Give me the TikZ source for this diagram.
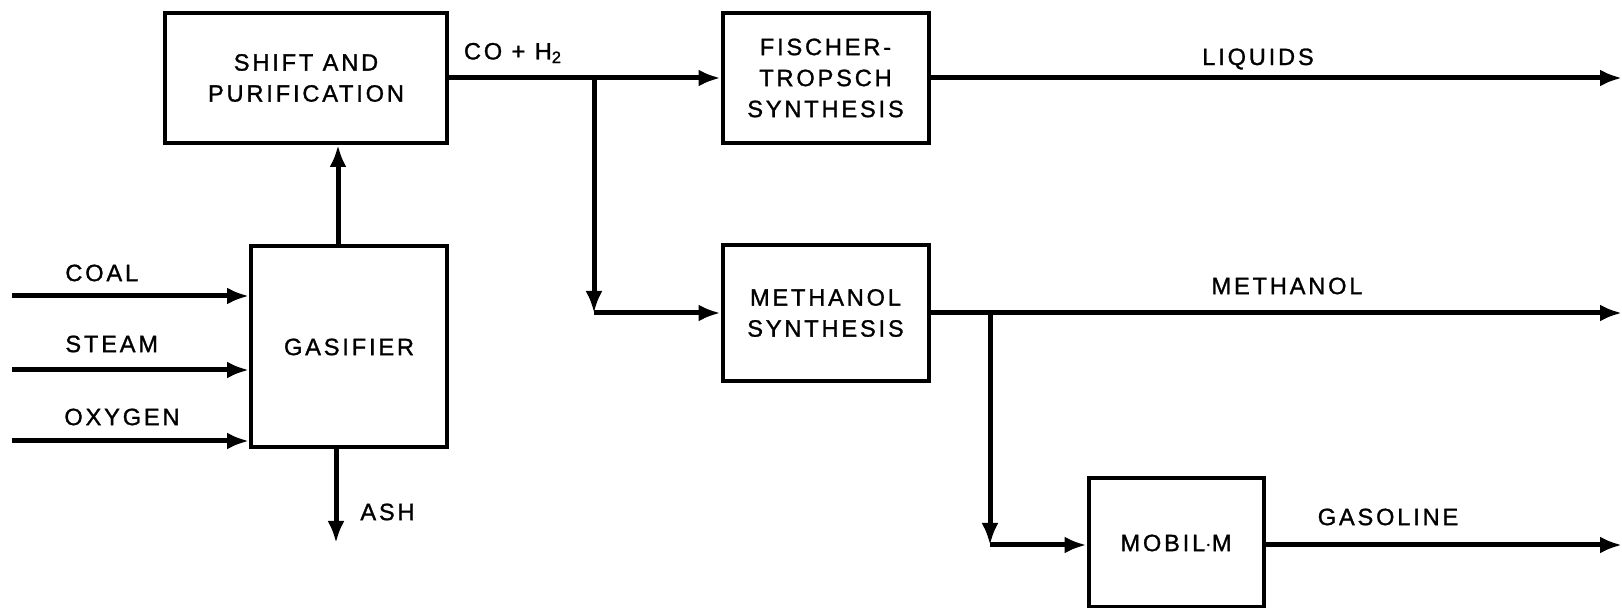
\documentclass[tikz,border=0pt]{standalone}
\usepackage{fontspec}
\setmainfont{Liberation Sans}[LetterSpace=12,FakeBold=1.2]
\usetikzlibrary{arrows.meta,calc}
\begin{document}
\begin{tikzpicture}[x=0.5pt,y=-0.5pt,
  every node/.style={font=\fontsize{11.8}{15.5}\selectfont},
  procbox/.style={draw,line width=2pt,align=center,inner sep=0pt},
  arr/.style={line width=2.5pt,-{Latex[length=11pt,width=8.5pt]}},
  lbl/.style={inner sep=0pt}]
\useasboundingbox (0,0) rectangle (1622,608);
% boxes
\node[procbox,minimum width=141pt,minimum height=65pt] (shift) at (306,78) {SHIFT AND\\PURIFICATION};
\node[procbox,minimum width=103pt,minimum height=65pt] (fischer) at (825.5,78) {FISCHER-\\TROPSCH\\SYNTHESIS};
\node[procbox,minimum width=103pt,minimum height=68pt] (methanol) at (825.5,313) {METHANOL\\SYNTHESIS};
\node[procbox,minimum width=98pt,minimum height=100.5pt] (gasifier) at (349,347) {GASIFIER};
\node[procbox,minimum width=87.5pt,minimum height=64.5pt] (mobil) at (1176,543) {MOBIL$\cdot$M};
% coordinates
\coordinate (ax) at (338,0);
\coordinate (ashx) at (336,543);
\coordinate (coal0) at (12,296);
\coordinate (steam0) at (12,370);
\coordinate (oxy0) at (12,441);
\coordinate (b1) at (594,78);
\coordinate (b2) at (594,313);
\coordinate (b3) at (990,313);
\coordinate (b4) at (990,545);
\coordinate (rend) at (1622,0);
% inputs
\draw[arr] (coal0) -- (coal0 -| gasifier.west);
\draw[arr] (steam0) -- (steam0 -| gasifier.west);
\draw[arr] (oxy0) -- (oxy0 -| gasifier.west);
\node[lbl,anchor=west] (coallbl) at (65,273) {COAL};
\node[lbl,anchor=west] (steamlbl) at (65,344) {STEAM};
\node[lbl,anchor=west] (oxylbl) at (64,417) {OXYGEN};
% gasifier to shift, ash
\draw[arr] (gasifier.north -| ax) -- (shift.south -| ax);
\draw[arr] (gasifier.south -| ashx) -- (ashx);
\node[lbl,anchor=west] (ashlbl) at (360,512) {ASH};
% syngas
\draw[arr] (shift.east) -- (fischer.west);
\node[lbl] (colbl) at (513,53) {CO + H\textsubscript{2}};
\draw[arr] (b1) -- (b2);
\draw[arr] (b2) -- (methanol.west);
% products
\draw[arr] (fischer.east) -- (fischer.east -| rend);
\node[lbl] (liqlbl) at (1258,59) {LIQUIDS};
\draw[arr] (methanol.east) -- (methanol.east -| rend);
\node[lbl] (methlbl) at (1287,286) {METHANOL};
\draw[arr] (b3) -- (b4);
\draw[arr] (b4) -- (b4 -| mobil.west);
\draw[arr] (b4 -| mobil.east) -- (b4 -| rend);
\node[lbl] (gaslbl) at (1388,517) {GASOLINE};
\end{tikzpicture}
\end{document}
